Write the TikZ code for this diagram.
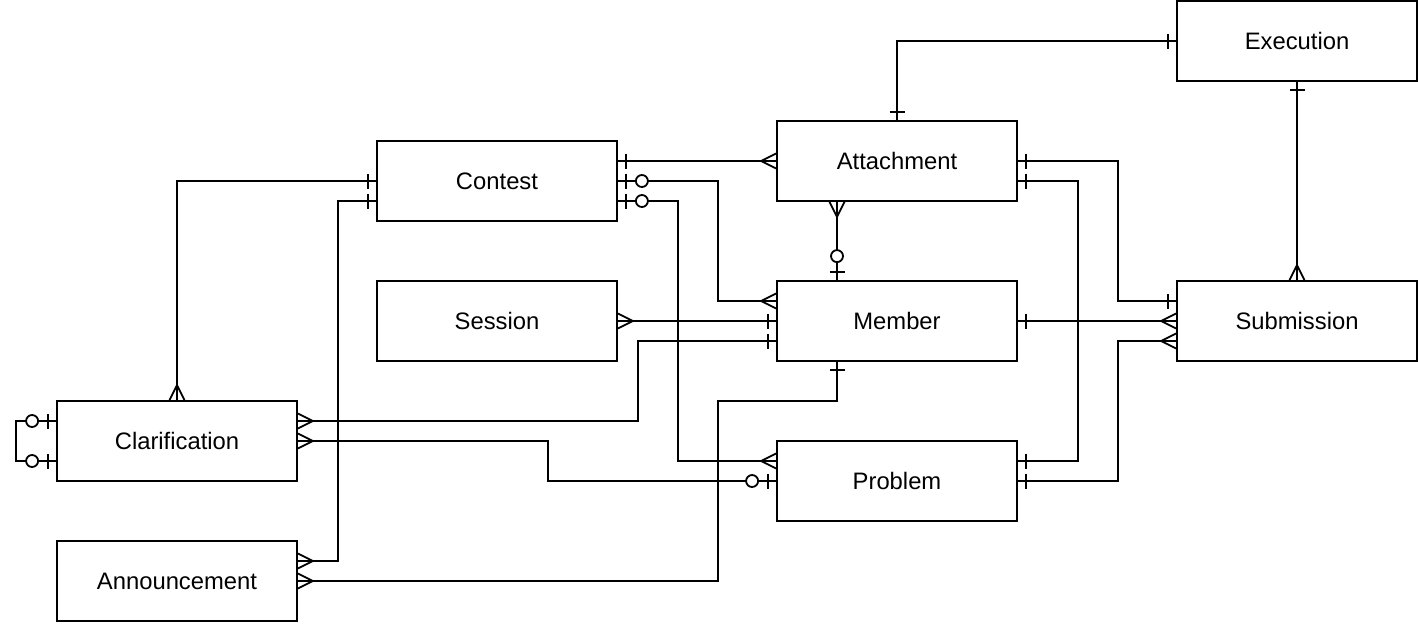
\documentclass[tikz,border=0pt]{standalone}
\usepackage{fontspec}
\setmainfont{Liberation Sans}
\begin{document}
\begin{tikzpicture}[x=1pt,y=-1pt,
  ent/.style={draw,line width=1.8pt,minimum width=240pt,minimum height=80pt,inner sep=0pt,font=\fontsize{23.8}{28}\selectfont,fill=white},
  conn/.style={line width=1.8pt},
  ermone/.pic={\draw[line width=1.8pt] (8,-7.5) -- (8,7.5);},
  ermzero/.pic={\draw[line width=1.8pt] (8,-7.5) -- (8,7.5);
                \draw[line width=1.8pt,fill=white] (24,0) circle (6);},
  ermmany/.pic={\draw[line width=1.8pt] (0,-7.5) -- (15,0) -- (0,7.5) (0,0) -- (15,0);}
]
\useasboundingbox[fill=white] (0,0) rectangle (1418,624);

% entities
\node[ent] (exe) at (1297,41) {Execution};
\node[ent] (att) at (897,161) {Attachment};
\node[ent] (con) at (497,181) {Contest};
\node[ent] (ses) at (497,321) {Session};
\node[ent] (mem) at (897,321) {Member};
\node[ent] (sub) at (1297,321) {Submission};
\node[ent] (cla) at (177,441) {Clarification};
\node[ent] (pro) at (897,481) {Problem};
\node[ent] (ann) at (177,581) {Announcement};

% connectors
\draw[conn] (att.north) coordinate (a1) |- (exe.west) coordinate (a2);
\draw[conn] ([yshift=20pt]con.east) coordinate (b1) -- (att.west) coordinate (b2);
\draw[conn] (con.east) coordinate (c1) -- ++(100,0) |- ([yshift=20pt]mem.west) coordinate (c2);
\draw[conn] ([yshift=-20pt]con.east) coordinate (d1) -- ++(60,0) |- ([yshift=20pt]pro.west) coordinate (d2);
\draw[conn] ([xshift=-60pt]att.south) coordinate (e1) -- ([xshift=-60pt]mem.north) coordinate (e2);
\draw[conn] (att.east) coordinate (f1) -- ++(100,0) |- ([yshift=20pt]sub.west) coordinate (f2);
\draw[conn] ([yshift=-20pt]att.east) coordinate (g1) -- ++(60,0) |- ([yshift=20pt]pro.east) coordinate (g2);
\draw[conn] (exe.south) coordinate (h1) -- (sub.north) coordinate (h2);
\draw[conn] (ses.east) coordinate (i1) -- (mem.west) coordinate (i2);
\draw[conn] (mem.east) coordinate (j1) -- (sub.west) coordinate (j2);
\draw[conn] (pro.east) coordinate (k1) -- ++(100,0) |- ([yshift=-20pt]sub.west) coordinate (k2);
\draw[conn] (cla.north) coordinate (l1) |- (con.west) coordinate (l2);
\draw[conn] ([yshift=20pt]cla.east) coordinate (m1) -- ++(340,0) |- ([yshift=-20pt]mem.west) coordinate (m2);
\draw[conn] (cla.east) coordinate (n1) -- ++(250,0) |- (pro.west) coordinate (n2);
\draw[conn] ([yshift=20pt]cla.west) coordinate (o1) -- ++(-40,0) |- ([yshift=-20pt]cla.west) coordinate (o2);
\draw[conn] ([yshift=20pt]ann.east) coordinate (p1) -- ++(40,0) |- ([yshift=-20pt]con.west) coordinate (p2);
\draw[conn] (ann.east) coordinate (q1) -- ++(420,0) -- ++(0,-180) -| ([xshift=-60pt]mem.south) coordinate (q2);

% cardinality marks
\path (a1) pic[rotate=90] {ermone};
\path (a2) pic[rotate=180] {ermone};
\path (b1) pic {ermone};
\path (b2) pic[rotate=180] {ermmany};
\path (c1) pic {ermzero};
\path (c2) pic[rotate=180] {ermmany};
\path (d1) pic {ermzero};
\path (d2) pic[rotate=180] {ermmany};
\path (e1) pic[rotate=-90] {ermmany};
\path (e2) pic[rotate=90] {ermzero};
\path (f1) pic {ermone};
\path (f2) pic[rotate=180] {ermone};
\path (g1) pic {ermone};
\path (g2) pic {ermone};
\path (h1) pic[rotate=-90] {ermone};
\path (h2) pic[rotate=90] {ermmany};
\path (i1) pic {ermmany};
\path (i2) pic[rotate=180] {ermone};
\path (j1) pic {ermone};
\path (j2) pic[rotate=180] {ermmany};
\path (k1) pic {ermone};
\path (k2) pic[rotate=180] {ermmany};
\path (l1) pic[rotate=90] {ermmany};
\path (l2) pic[rotate=180] {ermone};
\path (m1) pic {ermmany};
\path (m2) pic[rotate=180] {ermone};
\path (n1) pic {ermmany};
\path (n2) pic[rotate=180] {ermzero};
\path (o1) pic[rotate=180] {ermzero};
\path (o2) pic[rotate=180] {ermzero};
\path (p1) pic {ermmany};
\path (p2) pic[rotate=180] {ermone};
\path (q1) pic {ermmany};
\path (q2) pic[rotate=-90] {ermone};
\end{tikzpicture}
\end{document}
